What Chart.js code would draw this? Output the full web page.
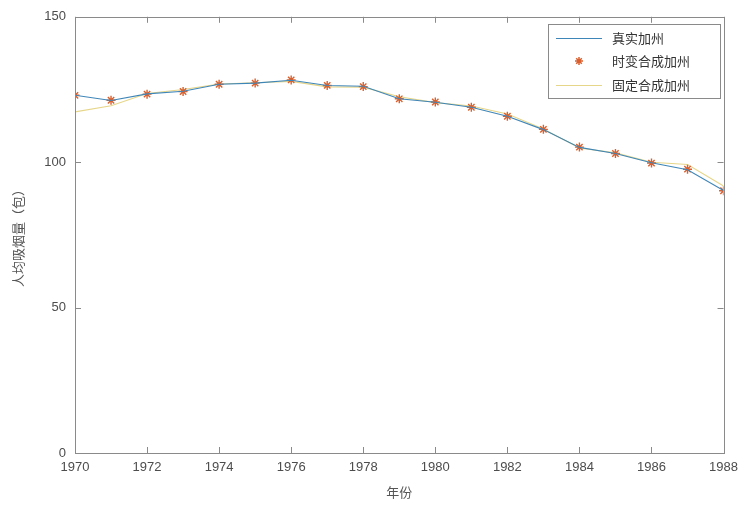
<!DOCTYPE html>
<html>
<head>
<meta charset="utf-8">
<script src="https://cdn.jsdelivr.net/npm/chart.js@4/dist/chart.umd.min.js"></script>
<style>
  html, body { margin: 0; padding: 0; background: #fff; }
  #wrap { width: 745px; height: 508px; }
</style>
</head>
<body>
<div id="wrap"><canvas id="c" width="745" height="508"></canvas></div>
<script>
// 加州人均吸烟量：真实值与合成控制结果
const years = [1970,1971,1972,1973,1974,1975,1976,1977,1978,1979,1980,1981,1982,1983,1984,1985,1986,1987,1988];
const realCA = [123.0,121.2,123.5,124.4,126.8,127.2,128.2,126.4,126.1,121.8,120.6,118.9,115.8,111.2,105.1,103.0,99.8,97.4,90.3];
const timeVaryingSynth = [123.0,121.3,123.4,124.3,126.8,127.2,128.3,126.4,126.0,121.8,120.7,118.9,115.8,111.3,105.2,103.0,99.7,97.6,90.2];
const fixedSynth = [117.3,119.4,123.6,125.0,126.9,127.3,127.8,125.9,125.8,122.5,120.5,119.3,116.6,111.4,104.9,103.2,100.0,99.2,91.8];
const seriesNames = ['真实加州','时变合成加州','固定合成加州'];
const xTicks = [1970,1972,1974,1976,1978,1980,1982,1984,1986,1988];
const yTicks = [0,50,100,150];

const pts = arr => arr.map((v, i) => ({ x: years[i], y: v }));

const FRAME = '#8a8a8a';
const TICKTXT = '#4d4d4d';

// 坐标框、内向刻度线与图例
const framePlugin = {
  id: 'frame',
  afterDraw(chart) {
    const { ctx, chartArea: a, scales: { x, y } } = chart;
    ctx.save();
    ctx.strokeStyle = FRAME;
    ctx.lineWidth = 1;
    ctx.strokeRect(Math.round(a.left) + 0.5, Math.round(a.top) + 0.5,
                   Math.round(a.right - a.left), Math.round(a.bottom - a.top));
    ctx.beginPath();
    xTicks.forEach(t => {
      const px = Math.round(x.getPixelForValue(t)) + 0.5;
      ctx.moveTo(px, a.bottom); ctx.lineTo(px, a.bottom - 6);
      ctx.moveTo(px, a.top); ctx.lineTo(px, a.top + 6);
    });
    yTicks.forEach(t => {
      const py = Math.round(y.getPixelForValue(t)) + 0.5;
      ctx.moveTo(a.left, py); ctx.lineTo(a.left + 6, py);
      ctx.moveTo(a.right, py); ctx.lineTo(a.right - 6, py);
    });
    ctx.stroke();

    // 图例
    const bx = 548.5, by = 24.5, bw = 172, bh = 74;
    ctx.fillStyle = '#fff';
    ctx.fillRect(bx, by, bw, bh);
    ctx.strokeStyle = FRAME;
    ctx.strokeRect(bx, by, bw, bh);
    ctx.font = '13px "Noto Sans CJK SC"';
    ctx.textBaseline = 'middle';
    ctx.textAlign = 'left';
    const ds = chart.data.datasets;
    const rowsY = [38, 61, 85];
    ds.forEach((d, i) => {
      const ry = rowsY[i];
      if (d.showLine === false) {
        ctx.strokeStyle = d.pointBorderColor;
        ctx.lineWidth = 1.5;
        const cx = 579, r = 4;
        ctx.beginPath();
        ctx.moveTo(cx - r, ry); ctx.lineTo(cx + r, ry);
        ctx.moveTo(cx, ry - r); ctx.lineTo(cx, ry + r);
        ctx.moveTo(cx - r * 0.7, ry - r * 0.7); ctx.lineTo(cx + r * 0.7, ry + r * 0.7);
        ctx.moveTo(cx - r * 0.7, ry + r * 0.7); ctx.lineTo(cx + r * 0.7, ry - r * 0.7);
        ctx.stroke();
      } else {
        ctx.strokeStyle = d.borderColor;
        ctx.lineWidth = 1.2;
        ctx.beginPath();
        ctx.moveTo(556, ry + 0.5); ctx.lineTo(602, ry + 0.5);
        ctx.stroke();
      }
      ctx.fillStyle = '#333';
      ctx.fillText(d.label, 612, ry);
    });
    ctx.restore();
  }
};

new Chart(document.getElementById('c'), {
  type: 'line',
  data: {
    datasets: [
      {
        label: seriesNames[0], data: pts(realCA),
        borderColor: '#3f86b8', borderWidth: 1.1, pointRadius: 0, fill: false, tension: 0
      },
      {
        label: seriesNames[1], data: pts(timeVaryingSynth), showLine: false,
        pointStyle: 'star', pointRadius: 4.5, pointBorderWidth: 1.4,
        pointBorderColor: '#d9602e', pointBackgroundColor: '#d9602e'
      },
      {
        label: seriesNames[2], data: pts(fixedSynth),
        borderColor: '#e6d68a', borderWidth: 1.1, pointRadius: 0, fill: false, tension: 0
      }
    ]
  },
  options: {
    responsive: false,
    animation: false,
    layout: { padding: { left: 10, right: 19, top: 13, bottom: 0 } },
    plugins: { legend: { display: false }, tooltip: { enabled: false } },
    scales: {
      x: {
        type: 'linear', min: 1970, max: 1988,
        afterBuildTicks: s => { s.ticks = xTicks.map(v => ({ value: v })); },
        afterFit: s => { s.height = 55; },
        grid: { display: false, drawTicks: false },
        border: { display: false },
        ticks: { padding: 7, color: TICKTXT, font: { family: 'Liberation Sans', size: 13 }, maxRotation: 0, callback: v => String(v) },
        title: { display: true, text: '年份', color: '#555', font: { family: 'Noto Sans CJK SC', size: 13 }, padding: { top: 4, bottom: 8 } }
      },
      y: {
        min: 0, max: 150,
        afterBuildTicks: s => { s.ticks = yTicks.map(v => ({ value: v })); },
        afterFit: s => { s.width = 65; },
        grid: { display: false, drawTicks: false },
        border: { display: false },
        ticks: { padding: 9, color: TICKTXT, font: { family: 'Liberation Sans', size: 13 } },
        title: { display: true, text: '人均吸烟量（包）', color: '#555', font: { family: 'Noto Sans CJK SC', size: 13 }, padding: { top: 0, bottom: 0 } }
      }
    }
  },
  plugins: [framePlugin]
});
</script>
</body>
</html>
